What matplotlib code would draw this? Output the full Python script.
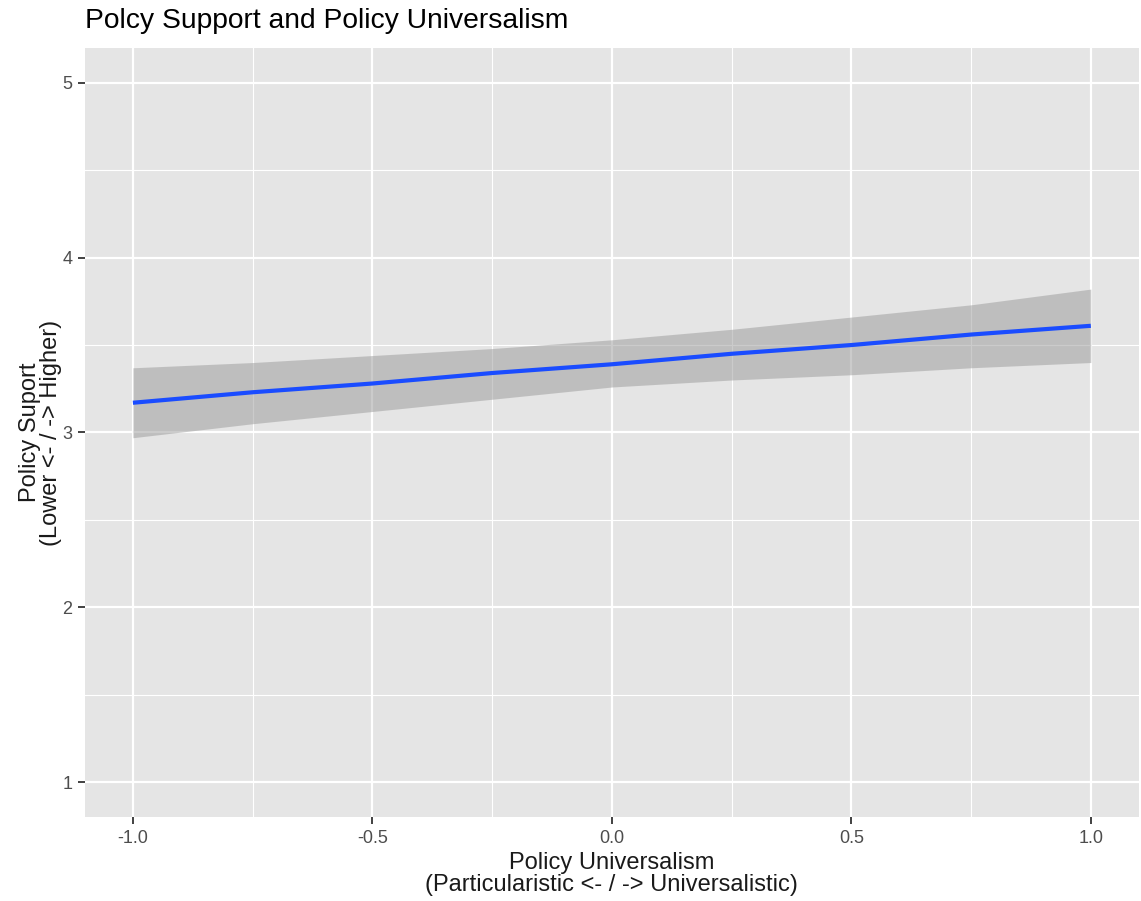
import matplotlib
matplotlib.use('Agg')
import matplotlib.pyplot as plt
import numpy as np

# values (linear fit with confidence band)
x_vals = [-1.0, -0.75, -0.5, -0.25, 0.0, 0.25, 0.5, 0.75, 1.0]
fit = [3.17, 3.23, 3.28, 3.34, 3.39, 3.45, 3.50, 3.56, 3.61]
upper = [3.37, 3.40, 3.44, 3.48, 3.53, 3.59, 3.66, 3.73, 3.82]
lower = [2.97, 3.05, 3.12, 3.19, 3.26, 3.30, 3.33, 3.37, 3.40]

x_ticks = [-1.0, -0.5, 0.0, 0.5, 1.0]
x_ticklabels = ['-1.0', '-0.5', '0.0', '0.5', '1.0']
y_ticks = [1, 2, 3, 4, 5]

plt.rcParams['font.family'] = ['Liberation Sans', 'DejaVu Sans']

fig = plt.figure(figsize=(11.41, 9.01), dpi=100)
ax = fig.add_axes([0.0745, 0.093, 0.9235, 0.854])
ax.set_facecolor('#E5E5E5')

# grid like ggplot
ax.set_xticks(x_ticks)
ax.set_xticks([-0.75, -0.25, 0.25, 0.75], minor=True)
ax.set_yticks(y_ticks)
ax.set_yticks([1.5, 2.5, 3.5, 4.5], minor=True)
ax.grid(which='major', color='white', lw=1.6)
ax.grid(which='minor', color='white', lw=0.8)
ax.set_axisbelow(True)

ax.fill_between(x_vals, lower, upper, color='#999999', alpha=0.5, lw=0, zorder=2)
ax.plot(x_vals, fit, color='#1A4CFF', lw=3, zorder=3, solid_capstyle='butt')

ax.set_xlim(-1.1, 1.1)
ax.set_ylim(0.8, 5.2)
ax.set_xticklabels(x_ticklabels)

for s in ax.spines.values():
    s.set_visible(False)
ax.tick_params(which='major', length=5, width=1.3, color='#333333',
               labelcolor='#4D4D4D', labelsize=13, pad=4)
ax.tick_params(which='minor', length=0)

ax.set_xlabel('Policy Universalism\n(Particularistic <- / -> Universalistic)',
              fontsize=17, color='#1A1A1A', labelpad=4, linespacing=1.0)
ax.set_ylabel('Policy Suport\n(Lower <- / -> Higher)',
              fontsize=17, color='#1A1A1A', labelpad=0.5, linespacing=0.95)
fig.text(0.0745, 0.977, 'Polcy Support and Policy Universalism',
         fontsize=20.3, color='black', ha='left', va='center')

fig.savefig('out.png', dpi=100)
